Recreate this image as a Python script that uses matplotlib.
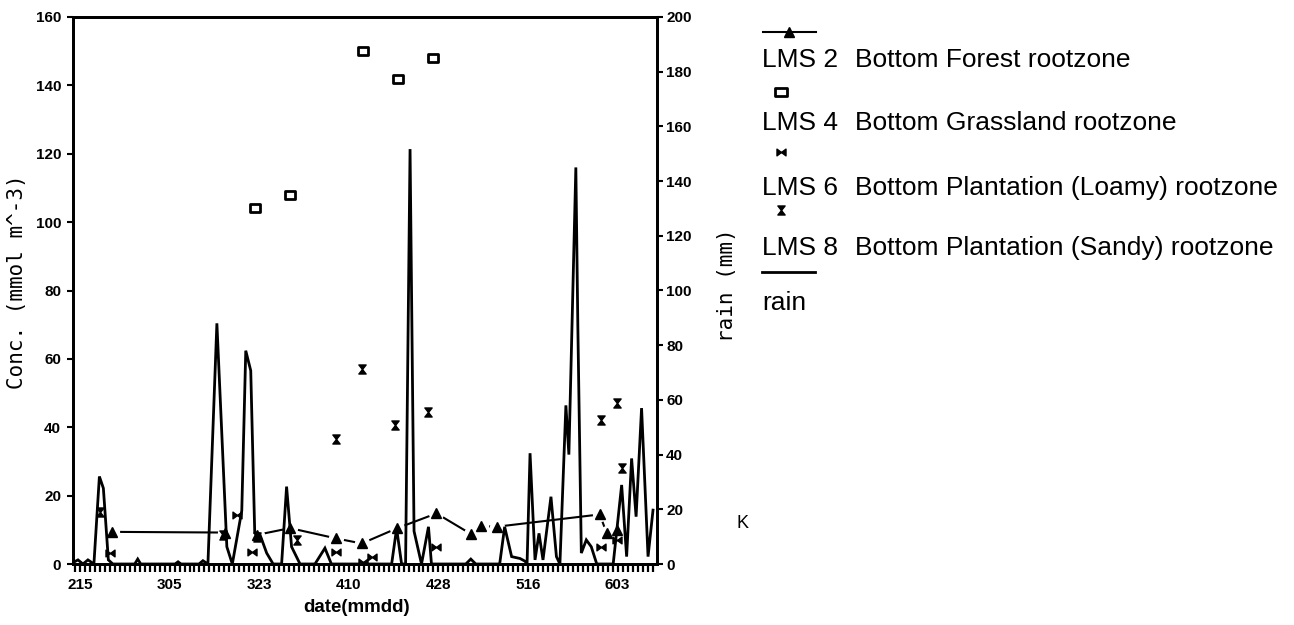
import numpy as np
import matplotlib
matplotlib.use("Agg")
import matplotlib.pyplot as plt
from matplotlib.lines import Line2D
from matplotlib.path import Path
from matplotlib.markers import MarkerStyle
from matplotlib.font_manager import FontProperties

# x values are days after 15 February (mmdd 215)
date_ticks = [0, 18, 36, 54, 72, 90, 108]
date_labels = ["215", "305", "323", "410", "428", "516", "603"]

# daily rain (mm)
rain_day = [-1.4, -0.4, 0.6, 1.6, 2.8, 3.9, 4.7, 5.7, 6.6, 11.0, 11.6, 12.2,
            19.1, 19.7, 20.3, 23.9, 24.7, 25.7, 27.5, 29.5, 30.6, 32.5, 33.3,
            34.3, 35.1, 36.1, 37.5, 38.8, 40.5, 41.5, 42.5, 44.2, 47.2, 49.2,
            50.5, 62.6, 63.6, 64.6, 65.4, 66.3, 67.1, 68.6, 70.0, 70.6, 77.5,
            78.5, 79.5, 84.3, 85.3, 86.7, 88.4, 89.4, 89.8, 90.4, 91.4, 92.2,
            93.0, 94.6, 95.7, 96.4, 97.6, 98.2, 99.6, 100.0, 100.7, 101.7,
            102.7, 103.8, 107.1, 108.8, 109.8, 110.8, 111.7, 112.8, 114.1, 115.1]
rain_mm = [0.5, 1.5, 0, 1.5, 0, 32, 27.7, 1.5, 0, 0, 1.8, 0,
           0, 0.8, 0, 0, 1.2, 0, 88, 6.3, 0, 19.5, 78,
           70.7, 11.5, 11, 4, 0, 0, 28.3, 6.3, 0, 0, 5.8,
           0, 0, 13, 0, 0, 151.7, 12, 0, 13.6, 0, 0,
           1.8, 0, 0, 13.6, 2.7, 2, 1, 0, 40.5, 1.5, 11.2,
           1.5, 24.6, 2.7, 0, 58, 40, 145, 87, 4, 8.8,
           6.3, 0, 0, 28.9, 2.7, 38.6, 17.3, 57, 2.7, 19.7]

# concentrations (mmol m^-3)
lms2_day = [6.4, 29.1, 32.0, 35.5, 42.2, 51.4, 56.6, 63.6, 71.6, 78.5, 80.5,
            83.7, 104.4, 105.8, 107.8]
lms2_conc = [9.4, 9.2, np.nan, 8.5, 10.5, 7.5, 6.0, 10.4, 14.8, 8.8, 11.1,
             10.9, 14.5, 9.0, 10.0]

lms4_day = [35.1, 42.2, 56.8, 63.9, 70.9]
lms4_conc = [104, 108, 150, 142, 148]

lms6_day = [6.0, 31.5, 34.5, 51.5, 56.9, 58.6, 71.6, 104.6, 107.8]
lms6_conc = [3.1, 14.3, 3.6, 3.6, 0.7, 2.1, 5.1, 5.1, 7.0]

lms8_day = [4.0, 28.7, 35.5, 43.5, 51.4, 56.6, 63.3, 69.9, 104.6, 107.8, 108.8]
lms8_conc = [15.3, 8.5, 8.0, 7.0, 36.7, 57.0, 40.6, 44.5, 42.1, 47.2, 28.0]

legend_labels = [("LMS 2", "Bottom Forest rootzone"),
                 ("LMS 4", "Bottom Grassland rootzone"),
                 ("LMS 6", "Bottom Plantation (Loamy) rootzone"),
                 ("LMS 8", "Bottom Plantation (Sandy) rootzone"),
                 ("rain", "")]

# marker shapes
box_marker = MarkerStyle(Path([(-1, -0.7), (1, -0.7), (1, 0.7), (-1, 0.7), (-1, -0.7)],
                              [1, 2, 2, 2, 79]), joinstyle="round")
bowtie_marker = Path([(-1, -0.75), (-1, 0.75), (0, 0), (1, 0.75), (1, -0.75), (0, 0), (-1, -0.75)],
                     [1, 2, 2, 2, 2, 2, 79])
hourglass_marker = Path([(-0.8, 1), (0.8, 1), (0, 0), (0.8, -1), (-0.8, -1), (0, 0), (-0.8, 1)],
                        [1, 2, 2, 2, 2, 2, 79])

W, H = 1294, 625
fig = plt.figure(figsize=(W / 100, H / 100), dpi=100)
fig.patch.set_facecolor("white")


def fx(px):
    return px / W


def fy(py):
    return 1 - py / H


ax = fig.add_axes([fx(73), fy(564), fx(657) - fx(73), fy(17) - fy(564)])
ax2 = ax.twinx()

tick_font = FontProperties(family="Liberation Sans", weight="bold", size=11)

# LMS 2 connecting line, broken around each marker
ax.plot(lms2_day, lms2_conc, color="black", lw=1.5, zorder=2)
ax.plot(lms2_day, lms2_conc, ls="none", marker="o", ms=11, mfc="white", mec="none", zorder=3)
ax.plot(lms2_day, lms2_conc, ls="none", marker="^", ms=6.5, color="black", zorder=4)

ax.plot(lms4_day, lms4_conc, ls="none", marker=box_marker, ms=7.5, mfc="none",
        mec="black", mew=2, zorder=4)
ax.plot(lms6_day, lms6_conc, ls="none", marker=bowtie_marker, ms=6.5, color="black", zorder=4)
ax.plot(lms8_day, lms8_conc, ls="none", marker=hourglass_marker, ms=6.5, color="black", zorder=4)

ax2.plot(rain_day, rain_mm, color="black", lw=2.0, solid_joinstyle="miter", zorder=3)

ax.set_xlim(-1.4, 115.9)
ax.set_ylim(0, 160)
ax2.set_ylim(0, 200)
ax.set_yticks(np.arange(0, 161, 20))
ax2.set_yticks(np.arange(0, 201, 20))
ax.set_xticks(date_ticks)
ax.set_xticklabels(date_labels)
ax.set_xticks(np.arange(-1, 116, 1), minor=True)

for a in (ax, ax2):
    for s in a.spines.values():
        s.set_linewidth(2)
    for lab in a.get_xticklabels() + a.get_yticklabels():
        lab.set_fontproperties(tick_font)

ax.tick_params(axis="y", direction="out", length=4.5, width=1.5, pad=4)
ax2.tick_params(axis="y", direction="out", length=4.5, width=1.5, pad=2)
ax.tick_params(axis="x", which="both", direction="out", length=6, width=1.6, pad=4)

# axis titles
fig.text(fx(17), fy(282), "Conc. (mmol m^-3)", rotation=90, ha="center", va="center",
         family="DejaVu Sans Mono", fontsize=15)
fig.text(fx(727), fy(285), "rain (mm)", rotation=90, ha="center", va="center",
         family="DejaVu Sans Mono", fontsize=15)
fig.text(fx(357), fy(607), "date(mmdd)", ha="center", va="center",
         family="Liberation Sans", weight="bold", fontsize=13.5)

# legend drawn beside the axes
leg_font = dict(family="Liberation Sans", fontsize=19)
sample_y = [32, 92, 152, 210, 272]
text_y = [60, 123, 188, 248, 303]
for i, (code, desc) in enumerate(legend_labels):
    if i == 0:
        fig.add_artist(Line2D([fx(763), fx(816)], [fy(sample_y[i])] * 2,
                              transform=fig.transFigure, color="black", lw=1.5))
        fig.add_artist(Line2D([fx(789)], [fy(sample_y[i])], transform=fig.transFigure,
                              marker="^", ms=7.5, color="black", ls="none"))
    elif i == 1:
        fig.add_artist(Line2D([fx(781)], [fy(sample_y[i])], transform=fig.transFigure,
                              marker=box_marker, ms=8, mfc="none", mec="black", mew=2, ls="none"))
    elif i == 2:
        fig.add_artist(Line2D([fx(781)], [fy(sample_y[i])], transform=fig.transFigure,
                              marker=bowtie_marker, ms=6.5, color="black", ls="none"))
    elif i == 3:
        fig.add_artist(Line2D([fx(781)], [fy(sample_y[i])], transform=fig.transFigure,
                              marker=hourglass_marker, ms=6.5, color="black", ls="none"))
    else:
        fig.add_artist(Line2D([fx(762), fx(815)], [fy(sample_y[i])] * 2,
                              transform=fig.transFigure, color="black", lw=2))
    fig.text(fx(762), fy(text_y[i]), code, ha="left", va="center", **leg_font)
    if desc:
        fig.text(fx(855), fy(text_y[i]), desc, ha="left", va="center", **leg_font)

fig.text(fx(743), fy(523), "K", ha="center", va="center", family="Liberation Sans", fontsize=13)

fig.savefig("out.png", dpi=100)
